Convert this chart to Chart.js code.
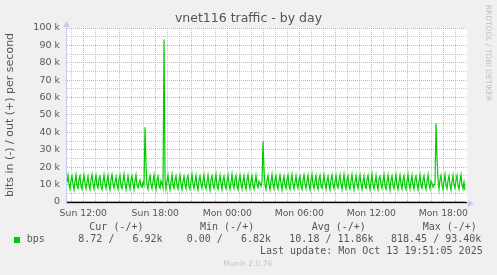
<!DOCTYPE html>
<html><head><meta charset="utf-8">
<script src="https://cdn.jsdelivr.net/npm/chart.js@4"></script>
<style>html,body{margin:0;padding:0;background:#f0f0f0;overflow:hidden}</style>
</head><body>
<canvas id="c" width="497" height="275" style="display:block;width:497px;height:275px"></canvas>
<script>
// ---- text ----
const chartTitle = 'vnet116 traffic - by day';
const yAxisTitle = 'bits in (-) / out (+) per second';
const watermark = 'RRDTOOL / TOBI OETIKER';
const legendHeaders = ['Cur (-/+)', 'Min (-/+)', 'Avg (-/+)', 'Max (-/+)'];
const legendSeries = 'bps';
const legendValues = ['8.72 /   6.92k', '0.00 /   6.82k', '10.18 / 11.86k', '818.45 / 93.40k'];
const lastUpdate = 'Last update: Mon Oct 13 19:51:05 2025';
const muninVersion = 'Munin 2.0.76';

// ---- axes (hours since Sun 00:00; values in kbit/s) ----
const xMinHour = 10.64;
const xMaxHour = 43.973;
const xGridHours = [11,12,13,14,15,16,17,18,19,20,21,22,23,24,25,26,27,28,29,30,31,32,33,34,35,36,37,38,39,40,41,42,43];
const xLabelHours = [12, 18, 24, 30, 36, 42];
const xLabels = ['Sun 12:00', 'Sun 18:00', 'Mon 00:00', 'Mon 06:00', 'Mon 12:00', 'Mon 18:00'];
const yGridValues = [0,5,10,15,20,25,30,35,40,45,50,55,60,65,70,75,80,85,90,95,100];
const yLabelValues = [0,10,20,30,40,50,60,70,80,90,100];
const yLabels = ['0','10 k','20 k','30 k','40 k','50 k','60 k','70 k','80 k','90 k','100 k'];
const yMin = -1.15, yMax = 100;

// ---- data: 5-minute samples starting Sun ~10:38 ----
const sampleStartHour = 10.64;
const sampleStepHours = 5 / 60;
const outKbps = [
 11.2,15.3,9.8,7.4,12.6,14.9,10.1,7.0,11.9,15.6,9.3,7.8,13.1,15.0,8.9,7.3,12.4,15.4,10.6,7.6,
 11.5,14.7,9.2,7.1,12.8,15.8,10.4,7.5,12.1,15.2,9.6,8.0,13.4,14.8,8.7,7.2,11.7,15.5,10.0,7.7,
 12.3,15.1,9.4,7.0,12.9,15.7,10.3,7.9,11.6,14.6,9.7,7.4,13.2,15.3,9.0,7.6,12.0,15.9,10.5,7.2,
 11.4,15.0,9.9,7.5,12.7,14.9,10.2,7.1,12.2,15.4,9.5,8.1,10.8,12.6,9.1,8.4,11.3,9.6,42.9,21.5,
 9.4,7.3,12.5,15.2,10.0,7.6,11.8,15.6,9.7,7.2,13.0,14.8,9.2,7.9,12.4,10.6,8.2,93.4,13.8,7.4,
 12.1,15.3,10.2,7.0,11.6,15.7,9.6,7.8,12.9,15.0,9.1,7.4,12.3,15.5,10.4,7.1,11.9,14.7,9.8,7.6,
 13.3,15.2,8.8,7.3,12.0,15.8,10.1,7.7,11.7,15.1,9.5,7.0,12.6,14.9,10.3,8.0,12.2,15.6,9.3,7.5,
 11.5,15.4,10.0,6.82,13.0,15.0,9.7,7.9,12.4,15.7,9.0,7.4,11.8,15.3,10.5,7.1,12.7,14.8,9.4,7.6,
 12.1,15.5,10.2,7.3,11.6,15.9,9.8,7.8,13.1,15.1,8.9,7.0,12.5,15.4,10.1,7.5,11.9,15.0,9.6,7.2,
 12.8,15.6,10.4,7.7,12.2,14.9,9.3,7.4,11.4,15.2,10.0,8.2,12.0,10.9,9.0,11.6,34.7,18.2,9.5,7.3,
 12.6,15.3,10.3,7.1,11.7,15.8,9.9,7.6,13.0,15.0,9.2,7.4,12.3,15.5,10.6,7.0,11.8,14.8,9.7,7.8,
 12.9,15.4,9.1,7.3,12.1,15.7,10.2,7.5,11.5,15.1,9.8,7.9,13.2,14.9,8.8,7.2,12.4,15.6,10.4,7.6,
 11.9,15.2,9.5,7.0,12.7,15.9,10.0,7.7,12.0,15.0,9.4,7.3,13.1,15.3,9.0,7.8,11.6,15.5,10.5,7.4,
 12.2,14.7,9.7,7.1,12.8,15.6,10.1,7.6,11.7,15.2,9.3,8.0,12.5,15.4,10.3,7.2,12.0,15.8,9.6,7.5,
 13.0,15.0,8.9,7.4,12.3,15.7,10.2,7.0,11.8,15.1,9.9,7.7,12.6,15.5,10.4,7.3,11.5,14.9,9.2,7.8,
 12.9,15.3,10.0,7.2,12.1,15.9,9.7,7.6,11.4,15.2,9.5,7.1,13.2,14.8,10.3,7.9,12.4,15.6,9.1,7.4,
 11.9,15.4,10.5,7.0,12.7,15.0,9.4,7.7,12.2,15.7,9.8,7.3,11.6,15.3,10.1,7.5,12.8,15.1,9.0,7.2,
 12.3,15.8,10.2,7.6,11.7,15.2,9.6,7.4,13.0,14.9,10.4,7.1,12.0,15.5,9.3,7.8,12.5,15.0,10.0,7.3,
 11.8,15.6,9.9,7.5,12.2,10.8,8.6,9.8,10.4,45.2,25.3,13.6,7.4,12.7,15.3,10.1,7.2,11.9,15.7,9.5,
 7.6,12.4,15.0,10.3,7.0,11.6,15.4,9.8,7.9,12.8,15.2,9.2,7.3,12.1,15.6,10.0,7.5,11.4,6.92
];
// incoming traffic (plotted negative), sample index -> kbit/s
const inSampleIdx = [0, 77, 78, 79, 96, 97, 98, 195, 196, 197, 368, 369, 370, 398];
const inKbps = [0.01, 0.01, 0.45, 0.01, 0.01, 0.818, 0.01, 0.01, 0.35, 0.01, 0.01, 0.40, 0.01, 0.00872];

// ---- styles ----
const LINE = '#00cc00';
const MAJOR = 'rgba(225,150,150,0.85)';
const MINOR = 'rgba(185,185,185,0.8)';
const TXT = '#555555';
const AXIS = '#c4cbf2';

const outPoints = outKbps.map((v, i) => ({x: sampleStartHour + i * sampleStepHours, y: v}));
const inPoints = inSampleIdx.map((k, j) => ({x: sampleStartHour + k * sampleStepHours, y: -inKbps[j]}));

const deco = {
  id: 'deco',
  beforeDraw(chart) {
    const c = chart.ctx, a = chart.chartArea;
    c.save();
    c.fillStyle = '#f0f0f0';
    c.fillRect(0, 0, chart.width, chart.height);
    c.fillStyle = '#ffffff';
    c.fillRect(a.left, a.top, a.right - a.left, a.bottom - a.top);
    c.restore();
  },
  afterDatasetsDraw(chart) {
    const c = chart.ctx, a = chart.chartArea, y = chart.scales.y;
    const y0 = Math.round(y.getPixelForValue(0)) + 0.5;
    c.save();
    c.strokeStyle = AXIS; c.lineWidth = 1;
    c.beginPath(); c.moveTo(a.left, a.bottom - 0.5); c.lineTo(a.right + 2, a.bottom - 0.5); c.stroke();
    c.fillStyle = AXIS;
    c.beginPath(); c.moveTo(a.right + 1, a.bottom - 4); c.lineTo(a.right + 7, a.bottom - 0.5); c.lineTo(a.right + 1, a.bottom + 3); c.closePath(); c.fill();
    c.beginPath(); c.moveTo(a.left - 0.5, a.bottom); c.lineTo(a.left - 0.5, a.top - 3); c.stroke();
    c.beginPath(); c.moveTo(a.left - 4, a.top - 1); c.lineTo(a.left - 0.5, a.top - 7); c.lineTo(a.left + 3, a.top - 1); c.closePath(); c.fill();
    c.strokeStyle = '#000000';
    c.beginPath(); c.moveTo(a.left, y0); c.lineTo(a.right, y0); c.stroke();
    c.restore();
  },
  afterDraw(chart) {
    const c = chart.ctx, a = chart.chartArea;
    c.save();
    c.fillStyle = TXT;
    c.textBaseline = 'middle';
    c.font = '12.5px "DejaVu Sans"';
    c.textAlign = 'center';
    c.fillText(chartTitle, 248.5, 18.5);
    c.save();
    c.translate(10.5, 115);
    c.rotate(-Math.PI / 2);
    c.font = '11px "DejaVu Sans"';
    c.fillText(yAxisTitle, 0, 0);
    c.restore();
    c.save();
    c.translate(487.5, 53);
    c.rotate(Math.PI / 2);
    c.font = '7.5px "DejaVu Sans"';
    c.fillStyle = '#c0c0c0';
    c.fillText(watermark, 0, 0);
    c.restore();
    c.font = '10px "DejaVu Sans Mono"';
    c.textAlign = 'left';
    const hx = [89.3, 200, 311.7, 422.7];
    legendHeaders.forEach((t, i) => c.fillText(t, hx[i], 227.7));
    c.fillStyle = LINE;
    c.fillRect(14, 237, 6, 6);
    c.fillStyle = TXT;
    c.fillText(legendSeries, 26.7, 239.8);
    const vx = [78.3, 186.7, 289.3, 391];
    legendValues.forEach((t, i) => c.fillText(t, vx[i], 239.8));
    c.textAlign = 'right';
    c.fillText(lastUpdate, 482.7, 251.5);
    c.textAlign = 'center';
    c.font = '7.5px "DejaVu Sans"';
    c.fillStyle = '#c4c4c4';
    c.fillText(muninVersion, 247.7, 264.3);
    c.restore();
  }
};

new Chart(document.getElementById('c'), {
  type: 'line',
  data: {
    datasets: [
      {data: inPoints, borderColor: LINE, borderWidth: 1, pointRadius: 0, tension: 0, fill: false},
      {data: outPoints, borderColor: LINE, borderWidth: 1.2, pointRadius: 0, tension: 0, fill: false}
    ]
  },
  options: {
    responsive: false,
    animation: false,
    devicePixelRatio: 1,
    events: [],
    layout: {padding: {top: 28, right: 30, left: 0, bottom: 0}},
    plugins: {legend: {display: false}, title: {display: false}, tooltip: {enabled: false}},
    scales: {
      x: {
        type: 'linear', min: xMinHour, max: xMaxHour,
        afterBuildTicks: s => { s.ticks = xGridHours.map(h => ({value: h})); },
        afterFit: s => { s.height = 71; },
        grid: {color: ctx => (ctx.tick && ctx.tick.value % 3 === 0) ? MAJOR : MINOR, lineWidth: 1, drawTicks: false},
        border: {display: false, dash: [1, 1]},
        ticks: {
          autoSkip: false, maxRotation: 0, minRotation: 0, padding: 4, color: TXT,
          font: {family: 'DejaVu Sans', size: 9.3},
          callback: v => { const k = xLabelHours.indexOf(v); return k >= 0 ? xLabels[k] : ''; }
        }
      },
      y: {
        type: 'linear', min: yMin, max: yMax,
        afterBuildTicks: s => { s.ticks = yGridValues.map(v => ({value: v})); },
        afterFit: s => { s.width = 67; },
        grid: {color: ctx => (ctx.tick && ctx.tick.value % 10 === 0) ? MAJOR : MINOR, lineWidth: 1, drawTicks: false},
        border: {display: false, dash: [1, 1]},
        ticks: {
          autoSkip: false, padding: 7, color: TXT,
          font: {family: 'DejaVu Sans', size: 9.5},
          callback: v => { const k = yLabelValues.indexOf(v); return k >= 0 ? yLabels[k] : ''; }
        }
      }
    }
  },
  plugins: [deco]
});
</script>
</body></html>
